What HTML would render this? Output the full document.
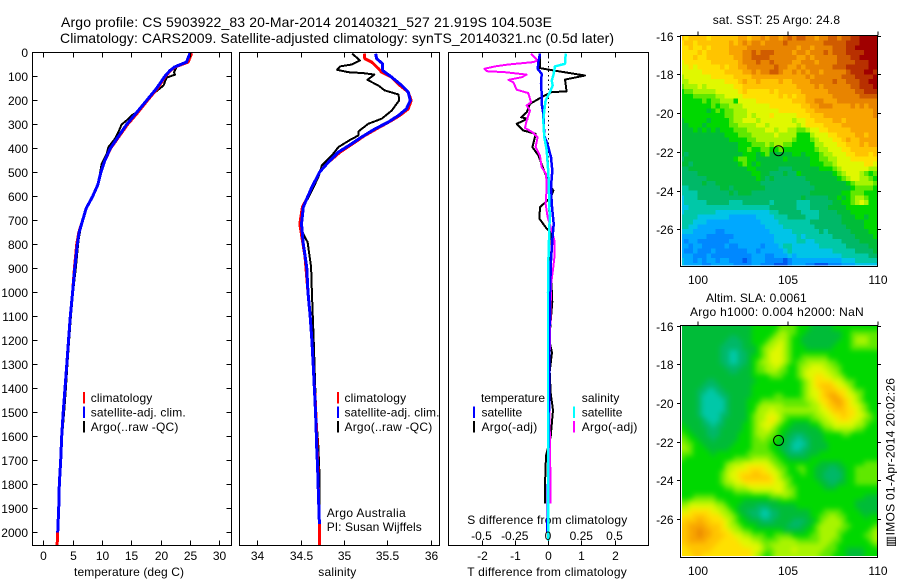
<!DOCTYPE html>
<html lang="en">
<head>
<meta charset="utf-8">
<title>Argo profile CS 5903922_83</title>
<style>
html,body{margin:0;padding:0;background:#fff;width:900px;height:580px;overflow:hidden}
svg{display:block;font-family:"Liberation Sans",Arial,"DejaVu Sans",sans-serif;font-size:12px;fill:#000}
.t14{font-size:14px}
</style>
</head>
<body>
<svg id="chart" xmlns="http://www.w3.org/2000/svg" width="900" height="580" viewBox="0 0 900 580">
<defs>
<filter id="sla-smooth" x="-5%" y="-5%" width="110%" height="110%" color-interpolation-filters="sRGB">
<feGaussianBlur stdDeviation="2.6"/>
<feComponentTransfer><feFuncA type="linear" slope="50"/></feComponentTransfer>
</filter>
</defs>
<rect x="0" y="0" width="900" height="580" fill="#fff"/>
<text class="t14" x="61" y="27" textLength="491" lengthAdjust="spacing">Argo profile: CS 5903922_83 20-Mar-2014 20140321_527 21.919S 104.503E</text>
<text class="t14" x="60" y="43" textLength="554" lengthAdjust="spacing">Climatology: CARS2009. Satellite-adjusted climatology: synTS_20140321.nc (0.5d later)</text>
<text x="74" y="576" textLength="110" lengthAdjust="spacing">temperature (deg C)</text>
<text x="318.3" y="576" textLength="38" lengthAdjust="spacing">salinity</text>
<text x="467.3" y="576" textLength="159.4" lengthAdjust="spacing">T difference from climatology</text>
<text x="467.3" y="524" textLength="160" lengthAdjust="spacing">S difference from climatology</text>
<text x="326.7" y="517" textLength="79" lengthAdjust="spacing">Argo Australia</text>
<text x="326.7" y="531" textLength="95" lengthAdjust="spacing">PI: Susan Wijffels</text>
<text x="712.7" y="24" textLength="127.3" lengthAdjust="spacing">sat. SST: 25 Argo: 24.8</text>
<text x="706" y="302" textLength="100.7" lengthAdjust="spacing">Altim. SLA: 0.0061</text>
<text x="690" y="316" textLength="173.7" lengthAdjust="spacing">Argo h1000: 0.004 h2000: NaN</text>
<text transform="translate(894.5,547) rotate(-90)" textLength="169" lengthAdjust="spacing">▥IMOS 01-Apr-2014 20:02:26</text>
<g id="plots"></g>
</svg>
<script>
// ---------- axis tick data ----------
const depthTicks = [0,100,200,300,400,500,600,700,800,900,1000,1100,1200,1300,1400,1500,1600,1700,1800,1900,2000];
const tempTicks = [0,5,10,15,20,25,30];
const salinityTicks = [34,34.5,35,35.5,36];
const salinityTickLabels = ['34','34.5','35','35.5','36'];
const tDiffTicks = [-2,-1,0,1,2];
const sDiffTicks = [-0.5,-0.25,0,0.25,0.5];
const sDiffTickLabels = ['-0.5','-0.25','0','0.25','0.5'];
const lonTicks = [100,105,110];
const latTicks = [-16,-18,-20,-22,-24,-26];

// ---------- temperature profiles ----------
const tempClimDepth = [3,40,60,75,100,150,200,250,300,350,400,450,500,550,600,650,700,750,800,900,1000,1100,1200,1300,1400,1500,1600,1700,1800,1900,2000,2054];
const tempClimValue = [25.3,24.7,22.5,21.7,20.8,19.45,17.75,16.1,14.35,12.9,11.45,10.5,9.8,9.3,8.4,7.3,6.7,6.05,5.7,5.3,5.0,4.6,4.3,4.0,3.7,3.4,3.13,2.96,2.73,2.62,2.45,2.35];
const tempSatDepth = [3,40,60,75,100,150,200,250,300,350,400,450,500,550,600,650,700,750,800,900,1000,1100,1200,1300,1400,1500,1600,1700,1800,1900,2000];
const tempSatValue = [25.0,24.4,22.4,21.6,20.7,19.3,17.6,15.9,14.2,12.8,11.4,10.5,9.8,9.3,8.4,7.3,6.7,6.1,5.8,5.35,5.0,4.6,4.3,4.0,3.7,3.4,3.13,2.96,2.73,2.62,2.45];
const tempArgoDepth = [3,40,61,82,92,105,137,161,186,214,249,262,283,300,332,360,394,422,464,505,540,596,644,686,728,783,894,992,1100,1200,1300,1400,1500,1600,1700,1800,1900];
const tempArgoValue = [25.0,24.4,22.7,22.3,22.45,21.0,20.5,19.3,18.2,17.05,15.9,15.05,14.2,13.35,12.8,12.2,11.1,10.8,9.95,9.65,9.4,8.5,7.5,6.8,6.4,6.0,5.55,5.1,4.7,4.4,4.1,3.85,3.55,3.2,2.95,2.7,2.55];

// ---------- salinity profiles ----------
const salClimDepth = [5,26,40,68,82,103,137,165,200,235,262,283,314,346,383,415,457,498,561,610,644,714,850,1000,1100,1200,1300,1367,1450,1547,1644,1728,1839,1964,2054];
const salClimValue = [35.234,35.24,35.32,35.40,35.435,35.55,35.645,35.74,35.775,35.74,35.645,35.55,35.395,35.24,35.09,34.955,34.82,34.72,34.63,34.57,34.52,34.49,34.55,34.585,34.61,34.63,34.645,34.654,34.668,34.68,34.69,34.698,34.705,34.716,34.72];
const salSatDepth = [5,26,47,75,103,137,165,200,235,262,290,318,353,380,415,457,498,561,610,644,714,797,894,1000,1100,1200,1300,1367,1450,1547,1644,1728,1839,1964];
const salSatValue = [35.365,35.377,35.446,35.446,35.55,35.665,35.74,35.765,35.72,35.63,35.51,35.36,35.2,35.09,34.935,34.82,34.72,34.63,34.57,34.53,34.51,34.53,34.57,34.585,34.61,34.63,34.645,34.654,34.665,34.677,34.685,34.696,34.705,34.716];
const salArgoDepth = [5,33,50,58,72,82,86,92,114,137,158,175,200,242,276,297,328,346,364,394,429,470,519,589,644,700,742,790,894,1000,1100,1200,1300,1370,1547,1644,1783,1900];
const salArgoValue = [35.095,35.185,35.09,34.955,34.92,35.05,35.22,35.35,35.27,35.395,35.47,35.63,35.635,35.55,35.435,35.28,35.17,35.165,35.07,34.935,34.86,34.745,34.705,34.61,34.53,34.505,34.51,34.58,34.62,34.63,34.64,34.65,34.66,34.665,34.685,34.705,34.72,34.72];

// ---------- difference profiles ----------
const tDiffSatDepth = [5,40,68,89,130,172,214,256,346,394,436,492,561,630,714,783,867,1000,1200,1500,1800,2000];
const tDiffSatValue = [-0.24,-0.29,-0.31,-0.19,-0.21,-0.19,-0.19,-0.14,-0.11,0.01,0.09,0.13,0.09,0.11,0.17,0.13,0.09,0.06,0.04,0.03,0,-0.02];
const tDiffArgoDepth = [5,65,76,96,113,162,165,186,214,249,270,276,297,325,339,394,429,484,519,561,575,603,644,692,734,748,811,867,894,1040,1120,1200,1250,1330,1420,1490,1600,1680,1800,1880];
const tDiffArgoValue = [-0.24,-0.24,0.21,1.11,0.51,0.56,0.11,-0.19,-0.54,-0.64,-0.81,-0.61,-0.94,-0.74,-0.37,-0.47,-0.29,-0.14,-0.04,0.09,0.16,0.09,-0.24,-0.26,-0.04,0.09,0.11,0.07,0.08,0.13,0.08,0.04,0.12,0.05,0.08,0.15,0.08,-0.06,-0.09,-0.09];
const sDiffSatDepth = [5,47,58,96,117,137,172,200,242,283,353,408,505,603,686,769,867,1000,1500,2033];
const sDiffSatValue = [0.133,0.128,0.053,0.04,0.028,0.035,0.008,-0.018,-0.028,-0.035,-0.028,-0.01,0.003,0.008,0.013,0.008,0.003,0,0,0];
const sDiffArgoDepth = [5,33,40,50,58,68,78,82,92,103,114,124,155,169,207,221,242,283,314,332,353,394,429,478,505,561,630,686,742,783,853,894,964,1103,1381,1770,1880];
const sDiffArgoValue = [-0.128,-0.078,-0.11,-0.298,-0.398,-0.479,-0.461,-0.323,-0.16,-0.198,-0.298,-0.26,-0.236,-0.148,-0.128,-0.16,-0.135,-0.16,-0.173,-0.118,-0.078,-0.093,-0.06,-0.048,-0.015,-0.01,-0.018,-0.003,0.028,0.048,0.048,0.04,0.023,0.018,0.008,0.018,0.02];

// ---------- map cell values (colour levels, 0 = coldest/lowest, 17 = warmest/highest) ----------
const sstLevels = [
[12,11,12,12,12,12,11,12,12,12,12,12,12,13,13,12,13,13,14,13,14,14,13,14,15,14,15,15,14,14,13,14,14,15,15,14,15,15,16,16,17,17,17,17],
[11,12,12,11,12,12,12,12,12,12,12,13,12,13,14,13,14,14,13,14,14,14,14,15,14,14,14,14,14,14,14,14,15,15,15,15,15,16,16,16,17,17,17,17],
[11,11,12,11,11,12,11,12,12,12,12,13,13,13,13,14,14,14,14,14,14,14,14,14,14,14,13,14,14,13,14,14,14,14,15,15,15,16,16,17,17,17,17,17],
[11,11,11,11,12,11,12,12,12,12,12,13,13,13,14,14,15,14,15,15,15,14,14,14,14,13,14,14,13,14,14,14,15,14,15,15,15,16,16,16,16,17,17,17],
[11,11,11,12,11,11,12,12,12,12,12,12,13,13,14,14,15,15,15,15,14,14,14,14,14,14,13,13,14,13,14,14,14,14,14,15,15,15,16,16,17,17,17,17],
[10,11,11,11,11,11,11,12,12,12,12,12,12,13,14,14,14,15,14,14,15,14,14,14,14,13,13,14,14,14,13,14,14,14,14,15,15,15,15,16,16,16,17,17],
[10,10,11,10,11,11,11,11,11,12,11,12,12,13,13,14,14,14,14,14,14,15,14,14,13,13,14,13,14,14,14,14,14,14,15,15,15,16,16,16,16,16,17,17],
[10,10,10,10,10,11,11,11,11,11,12,12,12,12,13,13,14,13,14,14,15,15,14,13,13,14,13,14,13,14,14,13,14,14,14,14,14,15,16,16,16,17,17,16],
[9,10,10,10,10,10,10,11,11,11,11,11,12,12,12,12,13,13,13,13,13,13,13,13,13,13,13,13,14,13,14,14,14,14,14,14,15,15,15,16,16,16,16,17],
[9,9,10,10,10,10,10,10,10,10,11,11,11,12,13,12,12,13,12,12,12,12,13,12,12,13,13,13,13,14,14,14,14,14,15,14,14,15,15,15,16,16,17,17],
[8,9,9,9,10,9,10,10,10,10,10,10,11,11,12,12,12,12,12,12,12,12,12,12,12,12,13,13,13,13,14,13,14,14,14,14,14,14,15,15,16,16,16,17],
[7,8,8,9,9,9,9,9,10,10,10,10,10,11,12,11,11,11,11,11,12,11,12,12,12,12,12,13,13,13,13,13,13,14,14,14,14,14,14,15,15,16,16,16],
[7,7,7,8,8,8,8,8,9,9,10,10,10,10,11,11,11,11,11,11,11,11,12,11,12,11,12,12,13,13,13,13,13,13,14,14,14,14,14,14,15,15,15,15],
[7,7,7,7,7,8,7,8,8,9,9,9,7,10,10,10,10,11,11,11,11,11,11,11,11,12,12,12,13,13,14,14,13,13,13,14,14,14,14,14,14,14,14,14],
[7,7,7,7,7,7,7,8,7,8,8,9,9,9,10,10,10,10,10,10,11,11,11,11,11,11,11,12,12,13,13,14,14,14,13,13,13,13,14,13,14,13,14,14],
[7,7,7,7,7,7,6,7,8,7,8,8,9,9,9,10,10,10,10,10,10,10,11,11,11,11,11,11,12,12,13,13,13,13,13,13,13,13,13,13,13,13,13,14],
[7,7,7,7,7,7,7,7,7,7,8,8,9,9,9,10,9,10,10,10,11,10,10,10,10,10,11,11,11,12,12,12,13,13,13,13,13,13,13,13,13,13,13,14],
[6,7,7,7,7,7,6,7,7,7,7,8,9,9,10,10,10,9,10,10,10,10,10,10,10,9,10,10,11,11,12,12,12,12,13,13,12,13,13,13,13,13,13,13],
[6,6,7,7,7,6,7,7,7,7,7,8,8,9,9,9,9,10,10,9,10,10,10,10,10,10,9,10,11,11,11,11,12,12,12,12,13,13,13,13,13,13,13,13],
[6,6,6,7,6,7,6,7,6,7,7,7,8,8,8,9,9,9,9,10,10,9,10,10,9,9,8,8,9,10,10,11,11,12,12,12,12,12,13,13,13,13,13,13],
[6,6,6,6,6,6,6,6,6,6,7,7,7,8,8,8,9,9,9,9,9,10,9,9,9,9,7,7,7,9,10,10,10,11,11,12,12,12,12,13,13,12,13,13],
[6,6,6,6,6,6,6,6,6,6,6,7,7,7,7,8,8,9,9,9,9,9,9,9,9,8,7,7,7,8,9,10,10,10,11,11,12,13,12,12,13,13,13,13],
[6,6,6,6,6,6,6,6,6,6,6,6,6,7,7,7,8,8,8,9,8,9,9,8,8,7,7,7,7,7,9,9,10,10,10,11,11,12,12,12,13,12,13,13],
[6,6,6,6,6,6,6,6,6,6,6,6,6,7,7,8,7,7,8,8,7,7,8,7,7,7,7,7,7,7,8,9,9,10,10,10,11,11,12,12,12,12,12,12],
[6,5,6,6,6,6,6,6,6,6,6,6,6,6,7,7,7,6,7,8,6,6,6,6,6,7,7,6,7,7,7,8,9,9,10,10,10,11,11,12,12,12,11,12],
[5,6,6,6,6,6,6,6,6,6,6,6,7,8,8,7,7,6,6,6,6,6,6,7,6,6,6,6,6,7,7,8,8,9,9,10,10,10,11,11,11,11,11,11],
[6,6,5,6,6,6,6,6,6,6,6,6,6,7,8,7,6,7,6,6,6,6,6,6,6,6,6,6,6,7,7,7,8,8,9,10,10,10,10,10,10,11,11,10],
[5,5,6,6,6,6,6,6,6,6,6,6,6,6,6,7,7,6,6,6,6,6,5,5,5,6,6,6,6,6,6,7,7,7,8,9,10,10,10,10,10,10,9,9],
[5,5,5,5,6,6,6,6,6,6,6,6,6,6,6,6,7,7,6,6,5,5,5,6,5,5,7,6,6,6,6,6,6,6,7,8,9,10,10,10,9,8,7,8],
[5,5,5,5,5,5,6,6,6,6,6,6,6,6,6,6,6,7,6,5,6,5,5,5,5,5,5,5,6,6,6,6,6,6,6,7,8,9,10,10,9,9,8,7],
[5,5,5,5,5,6,5,5,6,6,6,6,6,6,6,6,6,6,5,5,5,5,5,5,5,5,5,5,5,6,6,6,6,6,6,6,6,7,8,9,9,9,9,8],
[4,4,5,5,5,5,5,5,5,6,6,5,6,6,6,6,6,6,6,5,5,5,5,5,5,5,5,5,5,5,6,6,6,6,6,6,6,6,7,8,8,8,8,7],
[4,4,4,4,5,5,5,5,5,5,5,6,5,6,6,6,5,5,5,5,5,5,5,5,5,5,5,5,5,6,6,6,6,6,6,6,7,7,8,8,8,7,7,7],
[3,4,4,4,5,5,5,5,5,5,5,5,5,5,5,5,5,5,5,5,5,5,5,5,5,5,5,6,5,5,5,5,5,6,6,7,6,7,8,9,9,8,7,7],
[3,4,4,4,4,4,5,5,5,5,5,4,4,4,5,5,5,5,5,5,4,5,5,5,5,5,4,4,4,5,5,5,5,5,6,6,7,7,8,9,10,9,7,7],
[3,3,4,4,4,4,4,4,4,4,4,4,4,4,4,4,4,4,4,4,5,5,5,5,5,5,4,4,4,5,5,5,5,6,6,6,6,7,7,7,7,7,7,7],
[3,4,4,4,4,4,4,4,3,3,3,3,3,3,3,3,3,3,3,3,4,4,5,5,5,5,5,4,4,4,4,5,5,5,5,6,6,6,7,7,7,7,7,7],
[4,4,4,4,3,3,3,3,3,3,3,2,2,2,2,2,2,3,3,3,3,4,4,4,5,5,5,5,4,4,4,5,5,5,5,5,6,6,6,7,7,6,7,7],
[4,4,4,3,3,3,2,2,2,2,2,2,2,2,2,2,2,2,3,3,3,3,4,4,4,4,4,4,4,5,5,5,5,5,5,5,6,6,6,6,6,7,7,7],
[4,4,3,3,2,2,2,2,2,2,2,2,2,2,2,2,2,2,2,3,3,3,3,4,4,4,4,4,4,4,5,5,5,5,5,5,5,6,6,6,6,7,7,7],
[3,3,3,2,2,2,2,2,1,1,2,2,2,2,2,2,2,2,2,2,3,3,3,3,3,4,4,4,4,4,4,5,4,5,5,5,5,5,6,6,6,6,7,7],
[2,2,2,2,2,2,1,1,1,1,1,1,2,2,2,2,2,2,2,2,2,3,3,3,3,3,4,3,4,4,4,4,4,4,5,5,5,5,5,6,6,6,6,7],
[2,1,2,2,1,1,1,1,1,1,1,2,2,2,2,2,2,2,2,2,2,3,3,3,3,3,4,4,3,3,4,4,4,4,4,4,5,5,5,5,6,6,6,6],
[2,2,1,2,2,1,1,1,1,1,2,1,1,2,2,2,2,2,1,2,2,2,3,4,4,3,3,3,3,3,3,4,4,4,4,4,4,5,5,5,5,5,6,6],
[2,1,1,2,1,1,1,2,1,1,1,1,1,1,1,2,2,1,2,2,2,2,2,3,4,3,3,3,3,3,3,3,3,3,4,4,4,4,4,5,5,5,5,6],
[2,2,2,1,1,1,2,1,1,1,1,1,1,1,1,1,2,2,2,1,1,2,2,2,3,2,3,3,3,3,3,3,3,3,3,3,4,4,4,4,4,4,5,5],
[3,2,2,1,2,1,2,2,1,2,2,1,1,1,0,1,2,2,2,1,1,1,1,0,1,2,2,2,2,2,2,2,2,2,2,2,3,3,3,4,4,4,4,4],
[3,2,2,2,2,1,1,2,2,2,2,2,1,1,1,1,2,2,1,1,1,0,0,0,1,2,2,2,1,1,0,0,0,1,1,1,2,2,2,3,3,3,3,3]
];
const slaLevels = [
[6,6,6,6,6,6,6,6,6,6,6,6,6,6,6,6,7,7,7,7,7,7,8,8,8,8,7,7,7,6,6,6,6,6,7,7,7,7,7,7,7,7,7,7],
[6,6,6,6,6,6,6,6,6,6,6,6,6,6,6,6,7,7,7,7,7,8,9,9,8,8,7,7,6,6,6,6,6,6,6,6,7,7,8,8,8,8,8,8],
[6,6,6,6,6,6,6,6,6,6,6,5,5,6,6,6,7,7,7,7,8,9,9,9,8,7,7,6,6,6,6,6,6,6,6,6,7,7,8,9,9,9,8,8],
[6,6,6,6,6,6,6,6,6,6,5,5,5,5,6,6,7,7,7,8,9,9,10,9,8,7,7,6,6,6,6,6,6,6,6,7,7,7,8,9,9,9,8,8],
[6,6,6,6,6,6,6,6,6,5,5,5,5,5,6,6,6,7,8,9,9,10,10,9,8,7,7,7,6,6,6,6,6,6,7,7,7,7,8,8,8,8,8,8],
[6,6,6,6,6,6,6,6,6,5,5,4,4,5,5,6,6,7,8,9,10,10,10,9,8,7,7,7,7,7,7,7,7,7,7,7,7,7,7,7,7,7,7,7],
[6,6,6,6,6,6,6,6,6,5,5,4,4,5,5,6,7,7,8,9,10,10,10,9,8,7,7,8,8,8,8,8,8,7,7,7,7,7,7,7,7,7,7,7],
[6,6,6,6,6,6,6,6,6,5,5,4,4,5,5,6,7,8,9,9,10,10,10,9,8,7,8,8,9,9,9,9,9,8,8,7,7,7,7,7,7,7,7,7],
[6,6,6,6,6,6,6,6,6,6,5,5,5,5,6,6,7,8,8,9,9,10,9,8,7,7,8,9,9,10,10,10,9,9,8,8,7,7,7,7,7,7,7,7],
[6,6,6,6,6,6,6,6,6,6,6,5,5,6,6,6,7,8,8,9,9,9,8,8,7,7,8,9,10,10,10,10,10,9,9,8,7,7,7,7,7,7,7,7],
[6,6,6,6,6,6,6,6,6,6,6,6,6,6,6,6,7,7,7,7,8,8,8,7,7,7,8,9,10,10,11,11,10,10,9,9,8,7,7,7,7,7,7,7],
[6,6,6,6,6,6,5,5,6,6,6,6,6,6,6,6,6,7,7,7,7,7,7,7,7,7,7,8,9,10,11,11,11,11,10,10,9,8,8,7,7,7,7,7],
[6,6,6,6,6,5,5,5,5,6,6,6,6,6,6,6,7,7,7,7,7,7,7,7,7,7,7,8,9,10,11,12,12,12,11,10,10,9,8,7,7,7,7,7],
[6,6,6,6,5,5,4,4,5,5,6,6,6,6,6,6,7,7,7,7,7,7,7,7,7,7,7,8,9,10,10,11,12,12,12,11,11,10,9,8,8,7,7,7],
[6,6,6,6,5,4,4,4,4,5,5,6,6,6,6,6,7,7,7,7,7,8,8,7,7,7,7,8,9,10,10,11,12,13,13,12,11,10,10,9,8,7,7,7],
[6,6,6,6,5,4,4,4,4,4,5,6,6,6,6,7,7,7,8,8,8,8,8,8,8,8,8,8,9,9,10,11,11,12,13,13,12,11,10,9,8,7,7,7],
[6,6,6,6,5,4,4,4,4,4,5,6,6,6,6,7,7,8,9,9,9,9,9,8,8,8,8,8,8,9,9,10,11,12,12,13,12,11,10,10,9,8,7,7],
[6,6,6,6,5,4,4,4,4,4,5,6,6,6,6,7,7,9,9,9,10,9,9,9,9,9,9,9,9,9,9,10,10,11,12,12,12,11,11,10,9,8,7,7],
[6,6,6,6,5,4,4,4,4,5,5,6,6,6,6,7,8,9,9,10,10,10,9,8,8,8,8,8,8,8,9,9,10,10,11,11,12,11,11,10,10,9,8,7],
[6,6,6,6,6,5,4,4,4,5,6,6,6,6,6,7,8,9,9,10,11,10,9,8,7,7,7,7,7,8,8,9,9,10,10,11,11,11,10,10,9,8,8,7],
[7,6,6,6,6,5,5,4,5,5,6,6,6,6,7,7,8,9,10,10,10,9,8,7,7,6,6,6,6,7,7,8,9,9,10,10,10,10,10,9,9,8,7,7],
[7,7,6,6,6,6,5,5,5,6,6,6,6,6,7,7,8,9,9,10,9,8,7,7,6,6,6,6,6,6,6,7,8,8,9,9,9,9,9,8,8,7,7,7],
[8,7,7,6,6,6,5,5,5,6,6,6,6,7,7,7,8,9,9,9,8,8,7,6,6,5,5,5,6,6,6,6,7,7,7,7,8,8,7,7,7,7,7,7],
[8,8,7,7,6,6,6,5,6,6,6,6,6,7,7,7,8,8,9,8,8,7,7,6,5,5,4,5,5,6,6,6,7,7,7,7,7,7,7,7,7,7,7,7],
[9,8,8,7,7,6,6,6,6,6,6,6,7,7,7,7,8,8,8,8,7,7,6,6,5,4,4,4,5,6,6,6,6,7,7,7,7,7,7,7,7,7,7,7],
[9,9,8,7,7,7,6,6,6,6,6,7,7,7,7,7,8,8,8,8,7,7,6,5,5,4,4,5,5,6,6,6,6,7,7,7,7,7,7,7,7,7,7,7],
[8,8,8,7,7,7,7,6,7,7,7,7,7,7,7,8,8,8,8,8,8,7,7,6,5,5,5,5,6,6,6,7,7,7,7,7,7,7,7,7,7,7,7,7],
[8,7,7,7,7,7,7,7,7,7,7,7,8,8,8,8,9,9,9,9,8,8,7,7,6,6,6,6,6,7,7,7,7,7,7,7,7,7,7,7,7,7,7,7],
[7,7,7,7,7,7,7,7,7,7,8,9,9,9,10,10,10,10,10,10,9,8,8,7,7,7,7,7,7,7,7,6,6,6,6,6,7,7,7,7,7,8,8,8],
[7,7,7,7,7,7,7,7,7,7,9,9,10,10,10,11,11,11,11,10,10,9,8,8,7,7,8,8,7,7,6,6,6,5,5,6,6,7,7,8,8,8,8,8],
[7,7,7,7,7,7,7,7,7,8,9,10,10,11,11,11,12,12,11,11,10,10,9,8,7,7,7,8,7,7,6,6,5,5,5,5,6,7,7,8,8,8,8,8],
[7,7,7,7,7,7,7,7,7,8,9,10,10,11,12,12,12,12,12,12,11,10,9,8,8,7,7,7,7,7,6,6,5,5,5,5,6,7,7,8,8,8,8,8],
[7,7,7,7,7,7,7,7,7,8,9,9,10,10,11,11,11,11,11,11,11,10,10,9,8,7,7,7,7,7,7,6,6,5,5,6,6,7,7,8,8,8,8,8],
[7,7,7,7,7,7,7,7,7,7,8,8,9,9,9,10,10,10,10,10,10,10,10,9,8,8,7,7,7,7,7,7,6,6,6,7,7,7,7,7,7,7,7,7],
[7,7,7,7,7,7,7,7,7,7,7,7,8,8,8,8,9,9,9,9,9,10,10,9,9,8,7,7,7,7,7,7,7,7,7,7,7,7,7,7,7,7,7,7],
[7,7,7,8,8,8,8,8,7,7,7,7,7,7,7,7,7,7,7,7,8,8,8,9,8,8,7,7,7,7,7,7,7,7,7,7,7,7,7,7,7,6,6,6],
[8,8,9,9,9,9,9,9,8,8,7,7,7,7,6,6,6,6,6,6,6,6,7,7,7,7,7,7,7,7,7,7,7,7,7,7,7,7,7,6,6,6,6,6],
[9,9,10,10,10,10,10,10,9,9,8,7,7,6,6,6,6,5,5,5,6,6,6,6,6,6,7,7,7,7,7,7,7,7,7,7,7,7,7,6,6,6,6,6],
[10,10,11,11,11,11,11,10,10,9,9,8,7,6,6,5,5,5,4,4,5,5,6,6,6,6,6,6,6,7,7,7,8,8,8,8,7,7,7,7,6,6,6,6],
[11,11,11,12,12,12,11,11,11,10,9,9,8,7,6,6,5,5,4,4,5,5,6,6,6,6,6,6,6,7,7,8,8,9,9,8,8,7,7,7,7,6,7,7],
[11,12,12,12,13,12,12,11,11,11,10,9,8,7,7,6,6,6,5,5,5,6,6,6,6,5,5,5,6,6,7,8,9,9,9,9,8,7,7,7,7,7,7,7],
[12,12,13,13,13,13,12,12,12,11,10,9,9,8,7,7,7,6,6,6,6,6,6,6,5,5,5,6,6,7,8,9,9,9,9,9,8,8,7,7,7,7,7,8],
[12,12,13,13,14,13,13,12,12,11,11,10,9,9,8,8,7,7,7,7,7,7,7,6,6,6,6,6,7,7,8,9,9,9,9,8,8,7,7,7,7,7,8,9],
[12,12,13,13,14,13,13,12,12,12,11,11,10,10,9,9,8,8,8,7,7,8,8,8,8,7,7,7,7,8,8,9,9,9,9,8,7,7,7,7,7,8,8,9],
[12,12,13,13,13,13,12,12,12,11,11,11,11,10,10,10,9,9,8,8,8,8,9,9,9,9,8,8,8,8,8,9,9,9,8,8,7,7,7,7,7,7,8,9],
[11,12,12,12,12,12,12,12,11,11,11,11,11,11,10,10,10,10,9,8,9,9,9,9,9,9,9,9,9,9,9,9,9,8,8,7,7,7,7,7,7,7,7,8],
[11,11,12,12,12,12,12,11,11,11,11,11,11,11,11,11,10,10,9,8,8,9,9,9,9,10,9,9,9,9,9,9,8,8,8,7,7,6,6,6,6,7,7,7],
[11,11,11,12,12,11,11,11,11,11,11,11,11,11,11,11,10,9,8,7,8,9,9,9,9,9,9,9,9,9,9,8,8,8,7,7,7,6,6,6,6,7,7,7]
];
const floatLon = 104.503;
const floatLat = -21.919;

// ---------- scales ----------
const depthY = d => 52.5 + d * 0.24;
const tempX = t => 43.3 + t * 5.867;
const salX = s => 257.3 + (s - 34) * 86.7;
const tDiffX = t => 548 + t * 33.25;
const sDiffX = s => 548 + s * 133;
const lonX = lon => 697.5 + (lon - 100) * 18;
const sstLatY = lat => 35.7 + (-16 - lat) * 19.35;
const slaLatY = lat => 325.7 + (-16 - lat) * 19.3;
const ramp = ['#0058f0','#0088ff','#00a8ff','#00c4e8','#00c8a8','#00b868','#00bc38','#00d800','#60e800','#a8f400','#e0f800','#ffe000','#ffc400','#f8a400','#e88400','#d05c00','#b83000','#a00000'];
const levelColor = v => ramp[Math.max(0, Math.min(ramp.length - 1, Math.round(v)))];

// ---------- drawing helpers ----------
const NS = 'http://www.w3.org/2000/svg';
const root = document.getElementById('plots');
function addLine(parent, name, x1, y1, x2, y2, color, width, dash) {
  const el = document.createElementNS(NS, 'line');
  
  
  el.setAttribute('x1', x1);
  el.setAttribute('y1', y1);
  el.setAttribute('x2', x2);
  el.setAttribute('y2', y2);
  el.setAttribute('stroke', color || '#000');
  el.setAttribute('stroke-width', width || 1);
  el.setAttribute('shape-rendering', 'crispEdges');
  if (dash) el.setAttribute('stroke-dasharray', dash);
  parent.appendChild(el);
  return el;
}
function addText(parent, name, x, y, str, anchor, length) {
  const el = document.createElementNS(NS, 'text');
  
  
  el.setAttribute('x', x);
  el.setAttribute('y', y);
  if (anchor) el.setAttribute('text-anchor', anchor);
  if (length) {
    el.setAttribute('textLength', length);
    el.setAttribute('lengthAdjust', 'spacing');
  }
  el.textContent = str;
  parent.appendChild(el);
  return el;
}
function addGroup(name) {
  const el = document.createElementNS(NS, 'g');
  
  
  root.appendChild(el);
  return el;
}
function addBox(parent, name, x1, y1, x2, y2) {
  const el = document.createElementNS(NS, 'rect');
  
  
  el.setAttribute('x', x1);
  el.setAttribute('y', y1);
  el.setAttribute('width', x2 - x1);
  el.setAttribute('height', y2 - y1);
  el.setAttribute('fill', 'none');
  el.setAttribute('stroke', '#000');
  el.setAttribute('stroke-width', 1);
  el.setAttribute('shape-rendering', 'crispEdges');
  parent.appendChild(el);
  return el;
}
function addProfile(parent, name, depths, values, xScale, color, width) {
  const el = document.createElementNS(NS, 'polyline');
  
  
  el.setAttribute('points', depths.map((d, i) => xScale(values[i]).toFixed(1) + ',' + depthY(d).toFixed(1)).join(' '));
  el.setAttribute('fill', 'none');
  el.setAttribute('stroke', color);
  el.setAttribute('stroke-width', width);
  el.setAttribute('stroke-linejoin', 'round');
  el.setAttribute('shape-rendering', 'crispEdges');
  parent.appendChild(el);
  return el;
}
function addLegendEntry(parent, name, tickX, textX, y, color, label, length) {
  addLine(parent, name + '-swatch', tickX, y - 6, tickX, y + 5.5, color, 2);
  if (label) addText(parent, name + '-label', textX, y + 4, label, null, length);
}
const PANEL_TOP = 52.5;
const PANEL_BOTTOM = 545.5;

// ---------- temperature panel ----------
const p1 = addGroup('temperature-panel');
addProfile(p1, 'temperature-argo-line', tempArgoDepth, tempArgoValue, tempX, '#000', 2);
addProfile(p1, 'temperature-climatology-line', tempClimDepth, tempClimValue, tempX, '#ff0000', 3);
addProfile(p1, 'temperature-satellite-line', tempSatDepth, tempSatValue, tempX, '#0000ff', 3);
addBox(p1, 'temperature-panel-frame', 32.5, PANEL_TOP, 231.5, PANEL_BOTTOM);
depthTicks.forEach(d => {
  const y = Math.round(depthY(d) - 0.5) + 0.5;
  addLine(p1, 'depth-tick-left', 32.5, y, 37.5, y);
  addLine(p1, 'depth-tick-right', 226.5, y, 231.5, y);
  addText(p1, 'depth-tick-label', 28, y + 4.5, String(d), 'end');
});
tempTicks.forEach(t => {
  const x = Math.round(tempX(t)) + 0.5;
  addLine(p1, 'temperature-tick-top', x, PANEL_TOP, x, PANEL_TOP + 5);
  addLine(p1, 'temperature-tick-bottom', x, PANEL_BOTTOM - 5, x, PANEL_BOTTOM);
  addText(p1, 'temperature-tick-label', x, 560, String(t), 'middle');
});
addLegendEntry(p1, 'legend-climatology', 84, 90.7, 398, '#ff0000', 'climatology', 61.6);
addLegendEntry(p1, 'legend-satellite-adj', 84, 90.7, 412.5, '#0000ff', 'satellite-adj. clim.', 95);
addLegendEntry(p1, 'legend-argo', 84, 90.7, 427, '#000', 'Argo(..raw -QC)', 87.7);

// ---------- salinity panel ----------
const p2 = addGroup('salinity-panel');
addProfile(p2, 'salinity-argo-line', salArgoDepth, salArgoValue, salX, '#000', 2);
addProfile(p2, 'salinity-climatology-line', salClimDepth, salClimValue, salX, '#ff0000', 3);
addProfile(p2, 'salinity-satellite-line', salSatDepth, salSatValue, salX, '#0000ff', 3);
addBox(p2, 'salinity-panel-frame', 239.5, PANEL_TOP, 439.5, PANEL_BOTTOM);
salinityTicks.forEach((s, i) => {
  const x = Math.round(salX(s)) + 0.5;
  addLine(p2, 'salinity-tick-top', x, PANEL_TOP, x, PANEL_TOP + 5);
  addLine(p2, 'salinity-tick-bottom', x, PANEL_BOTTOM - 5, x, PANEL_BOTTOM);
  addText(p2, 'salinity-tick-label', x, 560, salinityTickLabels[i], 'middle');
});
addLegendEntry(p2, 'legend-climatology-s', 338, 344.5, 398, '#ff0000', 'climatology', 61.6);
addLegendEntry(p2, 'legend-satellite-adj-s', 338, 344.5, 412.5, '#0000ff', 'satellite-adj. clim.', 95);
addLegendEntry(p2, 'legend-argo-s', 338, 344.5, 427, '#000', 'Argo(..raw -QC)', 87.7);

// ---------- difference panel ----------
const p3 = addGroup('difference-panel');
addLine(p3, 'zero-difference-line', 548.5, PANEL_TOP, 548.5, depthY(2000), '#000', 1, '1.5 3');
addProfile(p3, 't-diff-argo-line', tDiffArgoDepth, tDiffArgoValue, tDiffX, '#000', 2);
addProfile(p3, 's-diff-argo-line', sDiffArgoDepth, sDiffArgoValue, sDiffX, '#ff00ff', 2);
addProfile(p3, 't-diff-satellite-line', tDiffSatDepth, tDiffSatValue, tDiffX, '#0000ff', 2.5);
addProfile(p3, 's-diff-satellite-line', sDiffSatDepth, sDiffSatValue, sDiffX, '#00ffff', 2.5);
addBox(p3, 'difference-panel-frame', 448.5, PANEL_TOP, 648.5, PANEL_BOTTOM);
tDiffTicks.forEach(t => {
  const x = Math.round(tDiffX(t)) + 0.5;
  addLine(p3, 't-diff-tick-top', x, PANEL_TOP, x, PANEL_TOP + 5);
  addLine(p3, 't-diff-tick-bottom', x, PANEL_BOTTOM - 5, x, PANEL_BOTTOM);
  addText(p3, 't-diff-tick-label', x, 560, String(t), 'middle');
});
sDiffTicks.forEach((s, i) => {
  addText(p3, 's-diff-tick-label', sDiffX(s), 540, sDiffTickLabels[i], 'middle');
});
addText(p3, 'legend-temperature-heading', 481, 402, 'temperature', null, 64);
addLegendEntry(p3, 'legend-t-satellite', 474, 481.5, 412.5, '#0000ff', 'satellite', 40.7);
addLegendEntry(p3, 'legend-t-argo', 474, 481.5, 427, '#000', 'Argo(-adj)', 55.7);
addText(p3, 'legend-salinity-heading', 581.7, 402, 'salinity', null, 37.7);
addLegendEntry(p3, 'legend-s-satellite', 574, 581.7, 412.5, '#00ffff', 'satellite', 40.7);
addLegendEntry(p3, 'legend-s-argo', 574, 581.7, 427, '#ff00ff', 'Argo(-adj)', 55.7);

// ---------- maps ----------
function drawMap(name, levels, latY, clipBottom, frameTop, frameBottom, smooth) {
  const g = addGroup(name);
  const clipId = name + '-clip';
  const clip = document.createElementNS(NS, 'clipPath');
  clip.setAttribute('id', clipId);
  const cr = document.createElementNS(NS, 'rect');
  cr.setAttribute('x', 682);
  cr.setAttribute('y', frameTop);
  cr.setAttribute('width', 195.5);
  cr.setAttribute('height', clipBottom - frameTop);
  clip.appendChild(cr);
  g.appendChild(clip);
  const clipped = document.createElementNS(NS, 'g');
  clipped.setAttribute('clip-path', 'url(#' + clipId + ')');
  g.appendChild(clipped);
  const cells = document.createElementNS(NS, 'g');
  
  
  if (smooth) cells.setAttribute('filter', 'url(#sla-smooth)');
  clipped.appendChild(cells);
  levels.forEach((row, r) => {
    row.forEach((v, c) => {
      const cell = document.createElementNS(NS, 'rect');
      
      
      const x0 = lonX(99 + c * 0.25);
      const y0 = latY(-16 - r * 0.25);
      cell.setAttribute('x', x0.toFixed(2));
      cell.setAttribute('y', y0.toFixed(2));
      cell.setAttribute('width', (lonX(99 + (c + 1) * 0.25) - x0 + 0.6).toFixed(2));
      cell.setAttribute('height', (latY(-16 - (r + 1) * 0.25) - y0 + 0.6).toFixed(2));
      cell.setAttribute('fill', levelColor(v));
      cell.setAttribute('shape-rendering', 'crispEdges');
      cells.appendChild(cell);
    });
  });
  addBox(g, name + '-frame', 680.5, frameTop, 877.5, frameBottom);
  latTicks.forEach(lat => {
    const y = Math.round(latY(lat)) + 0.5;
    addLine(g, 'latitude-tick-left', 677, y, 680.5, y);
    addLine(g, 'latitude-tick-right', 877.5, y, 881, y);
    addText(g, 'latitude-tick-label', 673.5, y + 4.5, String(lat), 'end');
  });
  lonTicks.forEach(lon => {
    const x = Math.round(lonX(lon));
    addLine(g, 'longitude-tick-top', x, frameTop - 4, x, frameTop);
    addText(g, 'longitude-tick-label', x, frameBottom + 17.5, String(lon), 'middle');
  });
  const mark = document.createElementNS(NS, 'circle');
  
  
  mark.setAttribute('cx', lonX(floatLon));
  mark.setAttribute('cy', latY(floatLat) + 0.5);
  mark.setAttribute('r', 5);
  mark.setAttribute('fill', 'none');
  mark.setAttribute('stroke', '#000');
  mark.setAttribute('stroke-width', 1);
  g.appendChild(mark);
}
drawMap('sst-map', sstLevels, sstLatY, 265.5, 35.5, 266.5, false);
drawMap('sla-map', slaLevels, slaLatY, 556, 325.5, 557.5, true);
</script>
</body>
</html>
